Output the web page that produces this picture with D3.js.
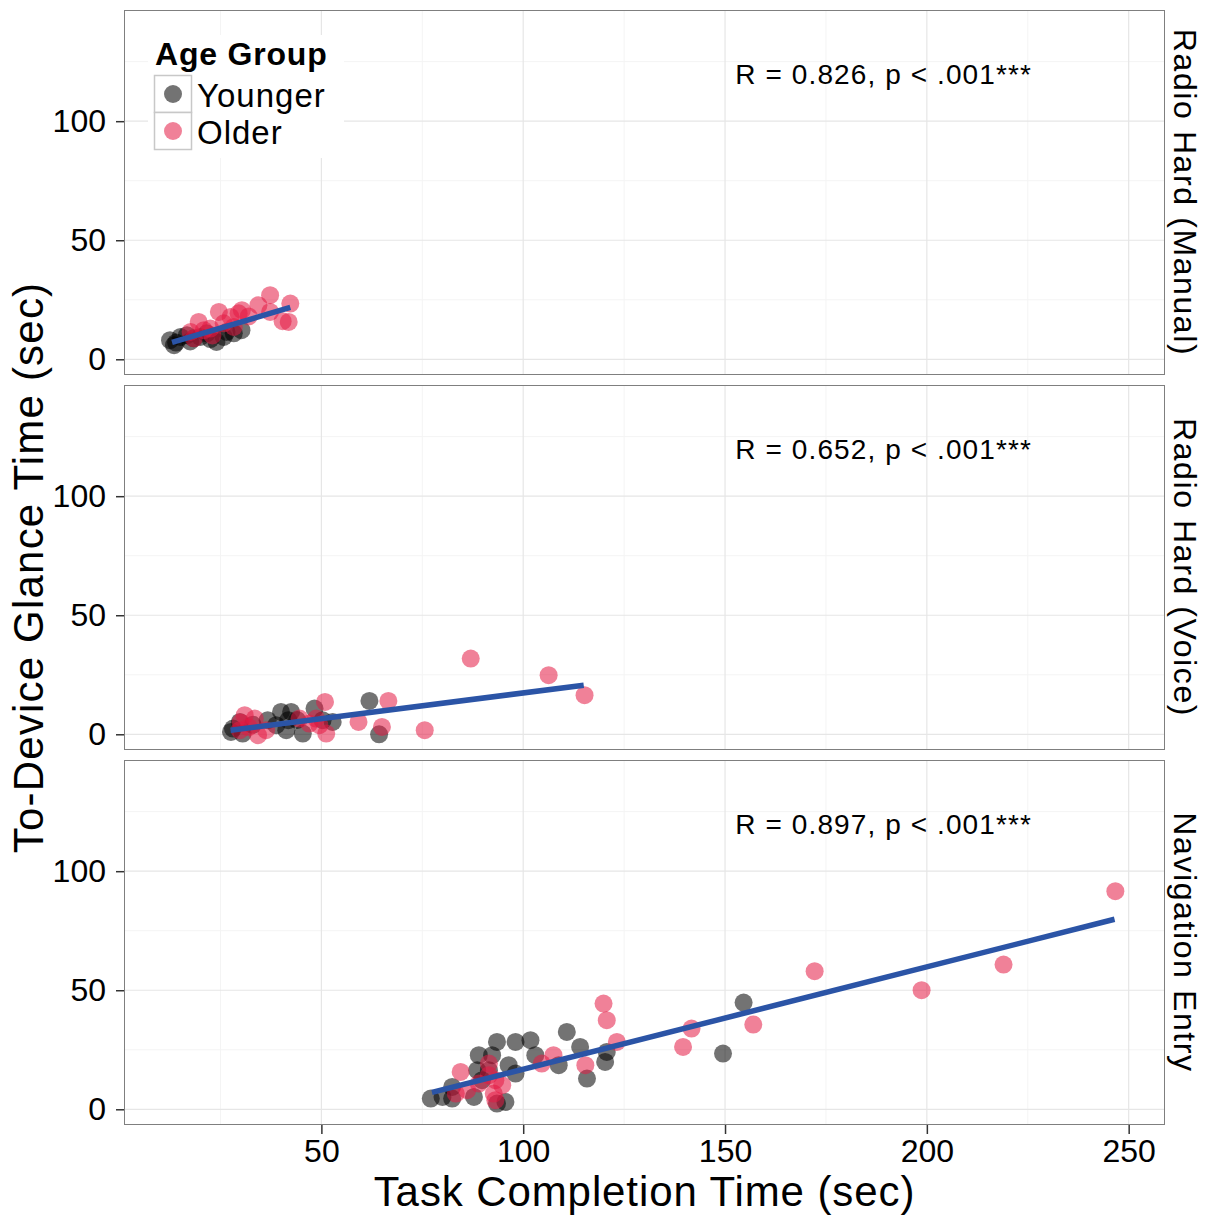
<!DOCTYPE html>
<html>
<head>
<meta charset="utf-8">
<script src="https://cdn.jsdelivr.net/npm/d3@7"></script>
<style>
  body { margin: 0; background: #fff; }
  text { font-family: "Liberation Sans", Arial, sans-serif; }
</style>
</head>
<body>
<script>
// panels, top to bottom
const panels = ["Radio Hard (Manual)", "Radio Hard (Voice)", "Navigation Entry"];
const statLabels = ["R = 0.826, p < .001***", "R = 0.652, p < .001***", "R = 0.897, p < .001***"];

// [task completion time, to-device glance time]
const manualYounger = [[12.5,8],[13.5,5.9],[15.1,9.4],[16.7,10.1],[18.4,8.8],[20,9.4],[21.6,10.9],[24,7.3],[25.8,9.4],[28.3,10.9],[30.2,12.2],[14,7],[17.5,7.5],[22.5,8.5],[26.5,11.5]];
const manualOlder = [[19.6,15.7],[18.4,8.8],[22.5,12.9],[24.6,19.9],[25.8,15.1],[27.5,17.8],[30.3,20.6],[34.4,22.7],[37.3,26.9],[37.3,19.9],[42.3,23.4],[41.9,15.7],[40.4,16],[17.6,11.5],[20.9,12.2],[28.3,13.6],[29.5,19.3],[23,10],[32,18]];

const voiceYounger = [[61.9,14],[64.3,0],[28.1,2.4],[27.6,1],[29.8,5.2],[40,9.4],[42.5,9.4],[41.3,1.7],[45.4,0.3],[38.8,3.8],[48.3,10.8],[52.8,5.2],[36.7,5.9],[30.5,0.3],[41.8,5.9],[50.3,5.9],[33,4],[44,6]];
const voiceOlder = [[87,31.8],[106.3,24.8],[115.2,16.4],[66.6,14],[50.9,13.6],[59.2,5.2],[65,3.1],[75.6,1.7],[31,8],[33.5,6.6],[29.8,1.7],[34.3,-0.4],[44.6,6.6],[47,4.5],[48.7,6.6],[51.2,0.3],[49.5,3.8],[36.3,1.7],[30,5],[32,3]];

const navYounger = [[77.1,4.5],[80,5.2],[82.4,4.5],[82.4,9.4],[87.8,5.2],[88.6,16.4],[89,22.7],[92.3,22.7],[93.5,28.3],[95.6,3.1],[93.5,2.4],[96.4,18.5],[98.1,15],[98.1,28.3],[101.8,29],[103,22.7],[108.8,18.5],[110.8,32.5],[114.1,26.2],[115.8,12.9],[120.3,19.9],[120.7,24.1],[91.5,16.4],[89.8,12.2],[154.6,44.8],[149.5,23.4]];
const navOlder = [[84.5,15.7],[83.3,6.6],[86.1,8],[91.5,19.2],[91.5,14.3],[94.8,10.1],[92.7,6.6],[93.1,3.8],[93.1,12.2],[104.6,19.2],[107.5,22.7],[115.4,18.5],[119.9,44.4],[120.7,37.4],[123.2,28.3],[89,10.8],[246.7,91.6],[219,60.8],[198.7,50],[172.2,58],[157,35.6],[141.7,33.9],[139.6,26.2]];

// fitted line end points
const fitLines = [
  [[13,7.1],[42.3,21.8]],
  [[27.5,1.7],[115,20.6]],
  [[77.4,7.1],[246.5,79.8]]
];

const groups = ["Younger", "Older"];
const groupColors = ["#000000", "#e31a44"];
const xTicks = [50, 100, 150, 200, 250];
const yTicks = [0, 50, 100];

const pointSets = [[manualYounger, manualOlder], [voiceYounger, voiceOlder], [navYounger, navOlder]];

const width = 1207, height = 1216;
const left = 124, right = 1165;
const panelTops = [10, 385, 760];
const panelH = 365;

const svg = d3.select("body").append("svg")
  .attr("width", width)
  .attr("height", height);

const x = d3.scaleLinear().domain([1.1, 259]).range([left, right]);
const y = d3.scaleLinear().domain([-6.6, 146.7]).range([panelH, 0]);

const xMinor = [25, 75, 125, 175, 225];
const yMinor = [25, 75, 125];

panels.forEach((name, i) => {
  const g = svg.append("g").attr("transform", `translate(0,${panelTops[i]})`);

  // grid
  g.selectAll(".xminor").data(xMinor).join("line")
    .attr("x1", d => x(d)).attr("x2", d => x(d))
    .attr("y1", 0).attr("y2", panelH)
    .attr("stroke", "#f4f4f4").attr("stroke-width", 1);
  g.selectAll(".yminor").data(yMinor).join("line")
    .attr("x1", left).attr("x2", right)
    .attr("y1", d => y(d)).attr("y2", d => y(d))
    .attr("stroke", "#f4f4f4").attr("stroke-width", 1);
  g.selectAll(".xmajor").data(xTicks).join("line")
    .attr("x1", d => x(d)).attr("x2", d => x(d))
    .attr("y1", 0).attr("y2", panelH)
    .attr("stroke", "#e6e6e6").attr("stroke-width", 1.2);
  g.selectAll(".ymajor").data(yTicks).join("line")
    .attr("x1", left).attr("x2", right)
    .attr("y1", d => y(d)).attr("y2", d => y(d))
    .attr("stroke", "#e6e6e6").attr("stroke-width", 1.2);

  // points
  pointSets[i].forEach((pts, k) => {
    g.append("g").selectAll("circle").data(pts).join("circle")
      .attr("cx", d => x(d[0]))
      .attr("cy", d => y(d[1]))
      .attr("r", 9)
      .attr("fill", groupColors[k])
      .attr("fill-opacity", 0.55);
  });

  // fit line
  g.append("path")
    .datum(fitLines[i])
    .attr("d", d3.line().x(d => x(d[0])).y(d => y(d[1])))
    .attr("stroke", "#2b54a6")
    .attr("stroke-width", 5.5)
    .attr("fill", "none");

  // stat label
  g.append("text")
    .attr("x", x(189.3))
    .attr("y", y(119.5))
    .attr("text-anchor", "middle")
    .attr("dominant-baseline", "central")
    .attr("font-size", 28)
    .attr("letter-spacing", 1.1)
    .text(statLabels[i]);

  // border
  g.append("rect")
    .attr("x", left + 0.5).attr("y", 0.5)
    .attr("width", right - left - 1).attr("height", panelH - 1)
    .attr("fill", "none").attr("stroke", "#7f7f7f").attr("stroke-width", 1);

  // y axis
  const ya = g.append("g")
    .attr("transform", `translate(${left},0)`)
    .call(d3.axisLeft(y).tickValues(yTicks).tickSize(8).tickPadding(10).tickSizeOuter(0));
  ya.select(".domain").remove();
  ya.selectAll("line").attr("stroke", "#333").attr("stroke-width", 1.5);
  ya.selectAll("text").attr("font-size", 32).attr("fill", "#000")
    .attr("font-family", "Liberation Sans, Arial, sans-serif");

  // strip label
  g.append("text")
    .attr("transform", `translate(1185,${panelH / 2}) rotate(90)`)
    .attr("text-anchor", "middle")
    .attr("dominant-baseline", "central")
    .attr("font-size", 32)
    .attr("letter-spacing", 1.6)
    .text(name);
});

// x axis on bottom panel
const bottom = panelTops[2] + panelH;
const xa = svg.append("g")
  .attr("transform", `translate(0,${bottom})`)
  .call(d3.axisBottom(x).tickValues(xTicks).tickSize(9).tickPadding(5).tickSizeOuter(0));
xa.select(".domain").remove();
xa.selectAll("line").attr("stroke", "#333").attr("stroke-width", 1.5);
xa.selectAll("text").attr("font-size", 32).attr("fill", "#000")
  .attr("font-family", "Liberation Sans, Arial, sans-serif");

// axis titles
svg.append("text")
  .attr("x", (left + right) / 2)
  .attr("y", 1191)
  .attr("text-anchor", "middle")
  .attr("dominant-baseline", "central")
  .attr("font-size", 42)
  .attr("letter-spacing", 0.9)
  .text("Task Completion Time (sec)");

svg.append("text")
  .attr("transform", `translate(28,${(panelTops[0] + bottom) / 2}) rotate(-90)`)
  .attr("text-anchor", "middle")
  .attr("dominant-baseline", "central")
  .attr("font-size", 42)
  .attr("letter-spacing", 1.2)
  .text("To-Device Glance Time (sec)");

// legend
const lg = svg.append("g").attr("transform", "translate(148,35)");
lg.append("rect").attr("width", 196).attr("height", 123).attr("fill", "#fff");
lg.append("text")
  .attr("x", 7).attr("y", 19)
  .attr("dominant-baseline", "central")
  .attr("font-size", 32).attr("font-weight", "bold")
  .attr("letter-spacing", 0.8)
  .text("Age Group");
groups.forEach((gname, k) => {
  const ky = 40 + k * 37;
  lg.append("rect")
    .attr("x", 6.5).attr("y", ky + 0.5)
    .attr("width", 37).attr("height", 37)
    .attr("fill", "#fff").attr("stroke", "#c8c8c8").attr("stroke-width", 1.5);
  lg.append("circle")
    .attr("cx", 25).attr("cy", ky + 19)
    .attr("r", 9)
    .attr("fill", groupColors[k]).attr("fill-opacity", 0.55);
  lg.append("text")
    .attr("x", 49).attr("y", ky + 20)
    .attr("dominant-baseline", "central")
    .attr("font-size", 33)
    .attr("letter-spacing", 1)
    .text(gname);
});
</script>
</body>
</html>
